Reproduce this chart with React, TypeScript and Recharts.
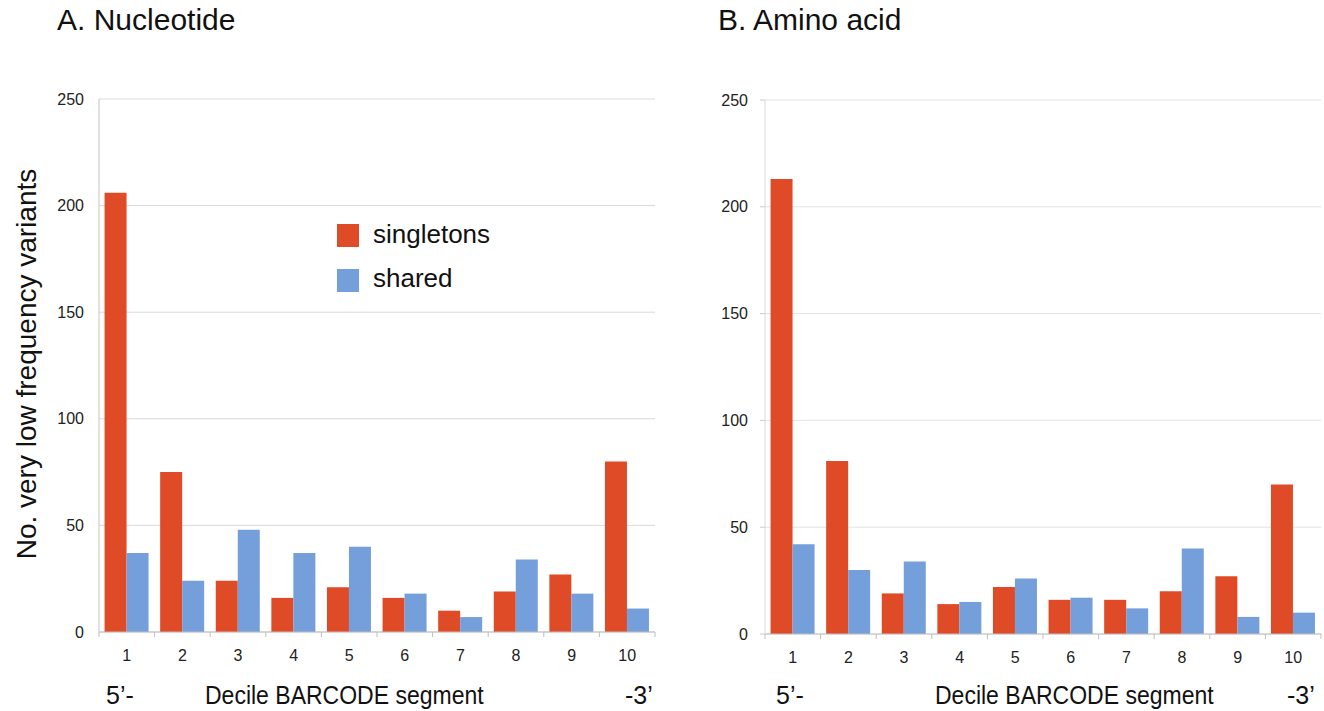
import React from 'react'
import { BarChart, Bar, XAxis, YAxis, CartesianGrid } from 'recharts'

const deciles = ['1', '2', '3', '4', '5', '6', '7', '8', '9', '10']
const ntSingletons = [206, 75, 24, 16, 21, 16, 10, 19, 27, 80]
const ntShared = [37, 24, 48, 37, 40, 18, 7, 34, 18, 11]
const aaSingletons = [213, 81, 19, 14, 22, 16, 16, 20, 27, 70]
const aaShared = [42, 30, 34, 15, 26, 17, 12, 40, 8, 10]
const yTicks = [0, 50, 100, 150, 200, 250]

const RED = '#E04B27'
const BLUE = '#749FDA'
const FONT = '"Liberation Sans", Arial, sans-serif'
const PLOT_W = 556
const BAND = PLOT_W / deciles.length

const DecileTick = ({ x, y, payload, index }: any) => (
  <g>
    <line x1={x - BAND / 2} x2={x - BAND / 2} y1={y} y2={y + 5} stroke="#bfbfbf" />
    {index === deciles.length - 1 && (
      <line x1={x + BAND / 2} x2={x + BAND / 2} y1={y} y2={y + 5} stroke="#bfbfbf" />
    )}
    <text x={x} y={y + 29} textAnchor="middle" fontFamily={FONT} fontSize={16} fill="#222">
      {payload.value}
    </text>
  </g>
)

interface PanelProps {
  singletons: number[]
  shared: number[]
  plotTop: number
  plotBottom: number
  gridColor: string
  yTickLine: boolean
}

function Panel({ singletons, shared, plotTop, plotBottom, gridColor, yTickLine }: PanelProps) {
  const data = deciles.map((d, i) => ({ decile: d, singletons: singletons[i], shared: shared[i] }))
  return (
    <BarChart
      width={662}
      height={711}
      data={data}
      margin={{ top: plotTop, right: 7, left: 49, bottom: 711 - plotBottom - 30 }}
      barCategoryGap="10%"
      barGap={0}
    >
      <CartesianGrid vertical={false} stroke={gridColor} />
      <XAxis
        dataKey="decile"
        height={30}
        interval={0}
        tickSize={0}
        tickMargin={0}
        tickLine={false}
        tick={<DecileTick />}
        axisLine={{ stroke: '#bfbfbf' }}
      />
      <YAxis
        width={50}
        domain={[0, 250]}
        ticks={yTicks}
        interval={0}
        axisLine={{ stroke: yTickLine ? '#dadada' : '#c4c4c4' }}
        tickLine={yTickLine ? { stroke: '#cccccc' } : false}
        tickSize={5}
        tickMargin={yTickLine ? 12 : 10}
        tick={{ fontFamily: FONT, fontSize: 16, fill: '#222' }}
      />
      <Bar dataKey="singletons" fill={RED} isAnimationActive={false} />
      <Bar dataKey="shared" fill={BLUE} isAnimationActive={false} />
    </BarChart>
  )
}

const abs = (left: number, top: number, extra: React.CSSProperties = {}): React.CSSProperties => ({
  position: 'absolute',
  left,
  top,
  whiteSpace: 'nowrap',
  ...extra,
})

export default function App() {
  const bottomStyle: React.CSSProperties = { fontSize: 25, lineHeight: '25px', color: '#111' }
  const squeezed: React.CSSProperties = { ...bottomStyle, transform: 'scaleX(0.92)', transformOrigin: 'left' }
  return (
    <div
      style={{
        position: 'absolute',
        left: 0,
        top: 0,
        width: 1324,
        height: 711,
        background: '#fff',
        fontFamily: FONT,
        overflow: 'hidden',
        color: '#111',
      }}
    >
      <div style={abs(0, 0)}>
        <Panel singletons={ntSingletons} shared={ntShared} plotTop={99} plotBottom={632} gridColor="#d9d9d9" yTickLine={false} />
      </div>
      <div style={abs(666, 0)}>
        <Panel singletons={aaSingletons} shared={aaShared} plotTop={100} plotBottom={634} gridColor="#e3e3e3" yTickLine={true} />
      </div>

      <div style={abs(57, 5, { fontSize: 30, lineHeight: '30px' })}>A. Nucleotide</div>
      <div style={abs(718, 5, { fontSize: 30, lineHeight: '30px' })}>B. Amino acid</div>

      <div
        style={abs(-172.7, 350, {
          width: 400,
          height: 28,
          fontSize: 28,
          lineHeight: '28px',
          textAlign: 'center',
          transform: 'rotate(-90deg)',
        })}
      >
        No. very low frequency variants
      </div>

      {/* legend */}
      <div style={abs(337, 224, { width: 22, height: 23, background: RED })} />
      <div style={abs(373, 221, { fontSize: 26, lineHeight: '26px' })}>singletons</div>
      <div style={abs(337, 269, { width: 22, height: 23, background: BLUE })} />
      <div style={abs(373, 265, { fontSize: 26, lineHeight: '26px' })}>shared</div>

      {/* bottom direction labels */}
      <div style={abs(106, 683, bottomStyle)}>5’-</div>
      <div style={abs(205, 683, squeezed)}>Decile BARCODE segment</div>
      <div style={abs(625, 683, bottomStyle)}>-3’</div>
      <div style={abs(776, 683, bottomStyle)}>5’-</div>
      <div style={abs(935, 683, squeezed)}>Decile BARCODE segment</div>
      <div style={abs(1287, 683, bottomStyle)}>-3’</div>
    </div>
  )
}
